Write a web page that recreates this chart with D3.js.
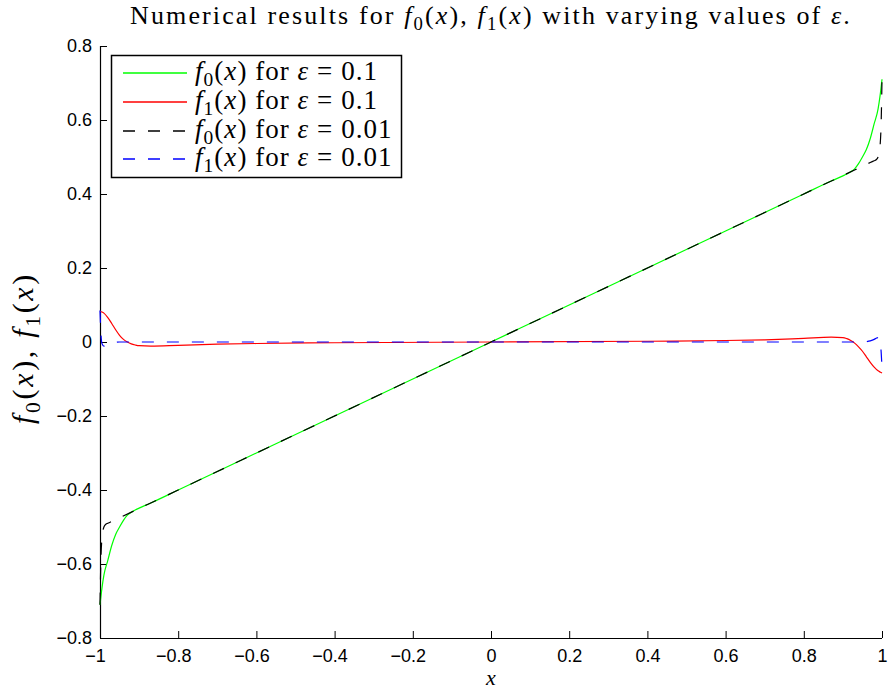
<!DOCTYPE html>
<html><head><meta charset="utf-8">
<script src="https://cdn.jsdelivr.net/npm/d3@7"></script>
<style>body{margin:0;background:#fff}svg{display:block}</style>
</head><body>
<script>
// ---- data ----
const xTicks = [-1, -0.8, -0.6, -0.4, -0.2, 0, 0.2, 0.4, 0.6, 0.8, 1];
const xTickLabels = ["\u22121", "\u22120.8", "\u22120.6", "\u22120.4", "\u22120.2", "0", "0.2", "0.4", "0.6", "0.8", "1"];
const yTicks = [-0.8, -0.6, -0.4, -0.2, 0, 0.2, 0.4, 0.6, 0.8];
const yTickLabels = ["\u22120.8", "\u22120.6", "\u22120.4", "\u22120.2", "0", "0.2", "0.4", "0.6", "0.8"];

const xEps1 = [-1, -0.995, -0.99, -0.98, -0.97, -0.96, -0.95, -0.94, -0.93, -0.92, -0.91, -0.9, -0.87, -0.8, -0.7, -0.6, -0.4, 0, 0.4, 0.6, 0.7, 0.8, 0.87, 0.9, 0.91, 0.92, 0.93, 0.94, 0.95, 0.96, 0.97, 0.98, 0.99, 0.995, 1];
const f0Eps1 = [-0.71, -0.665, -0.63, -0.59, -0.55, -0.52, -0.50, -0.482, -0.468, -0.46, -0.454, -0.449, -0.435, -0.4, -0.35, -0.3, -0.2, 0, 0.2, 0.3, 0.35, 0.4, 0.435, 0.449, 0.454, 0.46, 0.468, 0.482, 0.50, 0.52, 0.55, 0.59, 0.63, 0.665, 0.71];
const f1Eps1 = [0.083, 0.081, 0.078, 0.066, 0.05, 0.033, 0.018, 0.007, 0.0, -0.005, -0.008, -0.01, -0.011, -0.009, -0.006, -0.004, -0.002, 0, 0.002, 0.004, 0.006, 0.01, 0.013, 0.012, 0.009, 0.004, -0.003, -0.013, -0.025, -0.04, -0.055, -0.068, -0.078, -0.081, -0.084];

const xEps2 = [-1, -0.998, -0.995, -0.99, -0.985, -0.98, -0.97, -0.96, -0.95, 0, 0.95, 0.96, 0.97, 0.98, 0.985, 0.99, 0.995, 0.998, 1];
const f0Eps2 = [-0.71, -0.6, -0.53, -0.5, -0.4925, -0.49, -0.485, -0.48, -0.475, 0, 0.475, 0.48, 0.485, 0.49, 0.4925, 0.5, 0.53, 0.6, 0.71];
const f1Eps2 = [0.085, 0.03, -0.004, -0.011, -0.01, -0.007, -0.003, -0.001, 0, 0, 0, 0.001, 0.003, 0.007, 0.01, 0.012, 0.005, -0.03, -0.07];

const seriesDefs = [
  {x: xEps1, y: f0Eps1, color: "#00ff00", dash: null, sub: "0", eps: "0.1"},
  {x: xEps1, y: f1Eps1, color: "#ff0000", dash: null, sub: "1", eps: "0.1"},
  {x: xEps2, y: f0Eps2, color: "#000000", dash: "12,13", sub: "0", eps: "0.01"},
  {x: xEps2, y: f1Eps2, color: "#0000ff", dash: "12,13", sub: "1", eps: "0.01"}
];

// ---- chart ----
const W = 889, H = 690;
const svg = d3.select("body").append("svg").attr("width", W).attr("height", H);
const x = d3.scaleLinear().domain([-1, 1]).range([100, 882]);
const y = d3.scaleLinear().domain([-0.8, 0.8]).range([638, 46]);

const serif = "'Liberation Serif','Times New Roman',serif";
const sans = "'Liberation Sans',Arial,Helvetica,sans-serif";

function fitWidth(t, target) {
  const node = t.node();
  const w = node.getComputedTextLength();
  const n = node.textContent.length;
  const ls = (target - w) / n;
  t.style("letter-spacing", ls + "px");
  return ls;
}

// axes
const xAxis = d3.axisBottom(x).tickValues(xTicks).tickSize(-7).tickPadding(11)
  .tickFormat((d, i) => xTickLabels[i]);
const yAxis = d3.axisLeft(y).tickValues(yTicks).tickSize(-7).tickPadding(8)
  .tickFormat((d, i) => yTickLabels[i]);

const gx = svg.append("g").attr("transform", "translate(0,638)").call(xAxis);
const gy = svg.append("g").attr("transform", "translate(100,0)").call(yAxis);
[gx, gy].forEach(g => {
  g.select(".domain").attr("stroke", "#000").attr("stroke-width", 1.2)
    .attr("d", g === gx ? "M100,0.5H882" : "M0.5,46V638");
  g.selectAll(".tick line").attr("stroke", "#000").attr("stroke-width", 1);
  g.selectAll(".tick text").attr("fill", "#000").style("font-family", sans).style("font-size", "18px");
});
gx.selectAll(".tick text").attr("dx", (d) => d < 0 ? -5 : 0);

// lines
const line = d3.line().curve(d3.curveMonotoneX);
seriesDefs.forEach(s => {
  const pts = s.x.map((xv, i) => [x(xv), y(s.y[i])]);
  svg.append("path").attr("d", line(pts)).attr("fill", "none")
    .attr("stroke", s.color).attr("stroke-width", 1.2)
    .attr("stroke-dasharray", s.dash);
});

function mathFn(t, sub, size) {
  t.append("tspan").attr("font-style", "italic").text("f");
  t.append("tspan").attr("dy", size * 0.22).attr("font-size", size * 0.72).text(sub);
  t.append("tspan").attr("dy", -size * 0.22).text("(");
  t.append("tspan").attr("font-style", "italic").text("x");
  t.append("tspan").text(")");
}

// title
const TS = 26;
const title = svg.append("text").attr("x", 130).attr("y", 24)
  .style("font-family", serif).style("font-size", TS + "px").attr("fill", "#000");
title.append("tspan").text("Numerical results for ");
mathFn(title, "0", TS);
title.append("tspan").text(", ");
mathFn(title, "1", TS);
title.append("tspan").text(" with varying values of ");
title.append("tspan").attr("font-style", "italic").text("\u03b5");
title.append("tspan").text(".");
fitWidth(title, 722);

// y label
const YS = 30;
const yl = svg.append("text").attr("transform", "translate(33,424) rotate(-90)")
  .style("font-family", serif).style("font-size", YS + "px").attr("fill", "#000");
mathFn(yl, "0", YS);
yl.append("tspan").text(", ");
mathFn(yl, "1", YS);
fitWidth(yl, 152);

// x label
svg.append("text").attr("x", 491).attr("y", 685).attr("text-anchor", "middle")
  .style("font-family", serif).style("font-size", "22px").attr("font-style", "italic").text("x");

// legend
const LS = 27;
const lg = svg.append("g");
lg.append("rect").attr("x", 111.5).attr("y", 55.5).attr("width", 290).attr("height", 122)
  .attr("fill", "#fff").attr("stroke", "#000").attr("stroke-width", 1.5);
let legendSpacing = null;
seriesDefs.forEach((s, i) => {
  const yy = Math.round(73 + i * 28.8);
  lg.append("line").attr("x1", 123).attr("x2", 187).attr("y1", yy).attr("y2", yy)
    .attr("stroke", s.color).attr("stroke-width", 1.3).attr("stroke-dasharray", s.dash);
  const t = lg.append("text").attr("x", 195).attr("y", yy + 7)
    .style("font-family", serif).style("font-size", LS + "px").attr("fill", "#000");
  mathFn(t, s.sub, LS);
  t.append("tspan").text(" for ");
  t.append("tspan").attr("font-style", "italic").text("\u03b5");
  t.append("tspan").text(" = " + s.eps);
  if (legendSpacing === null) legendSpacing = fitWidth(t, 183);
  else t.style("letter-spacing", legendSpacing + "px");
});
</script>
</body></html>
